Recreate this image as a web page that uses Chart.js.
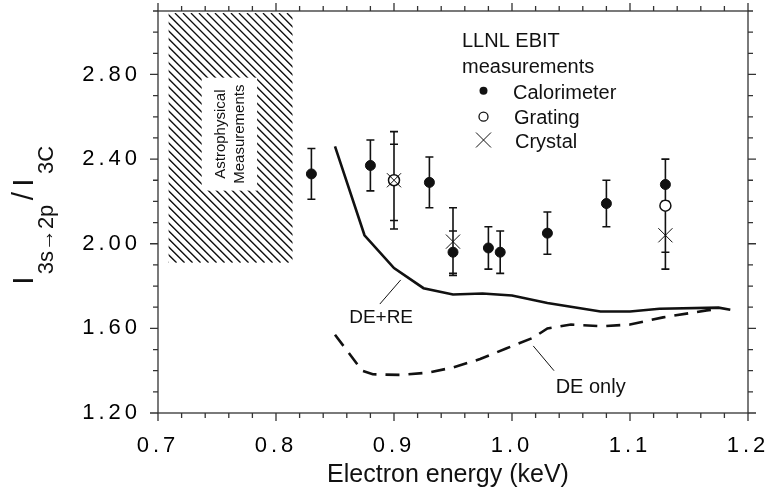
<!DOCTYPE html>
<html lang="en">
<head>
<meta charset="UTF-8">
<title>I(3s-2p)/I(3C) vs electron energy</title>
<script src="https://cdn.jsdelivr.net/npm/chart.js"></script>
<style>
  html, body { margin: 0; padding: 0; background: #fff; }
</style>
</head>
<body>
<canvas id="c" width="772" height="492"></canvas>
<script>
// axis tick labels
const xTicks = [0.7, 0.8, 0.9, 1.0, 1.1, 1.2];
const yTicks = [1.2, 1.6, 2.0, 2.4, 2.8];

// LLNL EBIT calorimeter
const calE    = [0.83, 0.88, 0.93, 0.95, 0.98, 0.99, 1.03, 1.08, 1.13];
const calR    = [2.33, 2.37, 2.29, 1.96, 1.98, 1.96, 2.05, 2.19, 2.28];
const calLow  = [2.21, 2.25, 2.17, 1.86, 1.88, 1.86, 1.95, 2.08, 2.17];
const calHigh = [2.45, 2.49, 2.41, 2.06, 2.08, 2.06, 2.15, 2.30, 2.40];

// grating
const gratE    = [0.90, 1.13];
const gratR    = [2.30, 2.18];
const gratLow  = [2.07, 1.96];
const gratHigh = [2.53, 2.40];

// crystal
const crysE    = [0.90, 0.95, 1.13];
const crysR    = [2.30, 2.01, 2.04];
const crysLow  = [2.11, 1.85, 1.88];
const crysHigh = [2.47, 2.17, 2.20];

// theory: DE+RE
const dereE = [0.85, 0.875, 0.90, 0.925, 0.95, 0.975, 1.00, 1.03, 1.075, 1.10, 1.125, 1.175, 1.185];
const dereR = [2.46, 2.04, 1.885, 1.79, 1.76, 1.765, 1.755, 1.72, 1.68, 1.68, 1.693, 1.698, 1.688];

// theory: DE only
const deE = [0.85, 0.873, 0.882, 0.905, 0.928, 0.95, 0.973, 0.995, 1.018, 1.03, 1.05, 1.077, 1.10, 1.128, 1.165, 1.175];
const deR = [1.57, 1.40, 1.383, 1.38, 1.39, 1.415, 1.455, 1.505, 1.556, 1.60, 1.618, 1.61, 1.618, 1.652, 1.685, 1.69];

// astrophysical range (hatched box)
const astroE = [0.709, 0.814];
const astroR = [1.91, 3.09];

const FONT = "'Liberation Sans', Arial, Helvetica, sans-serif";
const INK = '#111';

const pts = (xs, ys) => xs.map((x, i) => ({x: x, y: ys[i]}));

const errorSets = [
  {e: calE, lo: calLow, hi: calHigh},
  {e: gratE, lo: gratLow, hi: gratHigh},
  {e: crysE, lo: crysLow, hi: crysHigh}
];

// letter spaced tick labels like the original figure
const spacing = {
  id: 'spacing',
  beforeDraw(chart) { chart.ctx.letterSpacing = '4px'; },
  afterDraw(chart) { chart.ctx.letterSpacing = '0px'; }
};

const background = {
  id: 'background',
  beforeDatasetsDraw(chart) {
    const {ctx, scales: {x, y}} = chart;
    ctx.save();
    ctx.letterSpacing = '0px';

    // hatched astrophysical region
    const x0 = x.getPixelForValue(astroE[0]), x1 = x.getPixelForValue(astroE[1]);
    const y0 = y.getPixelForValue(astroR[1]), y1 = y.getPixelForValue(astroR[0]);
    ctx.save();
    ctx.beginPath();
    ctx.rect(x0, y0, x1 - x0, y1 - y0);
    ctx.clip();
    ctx.strokeStyle = INK;
    ctx.lineWidth = 1.4;
    const h = y1 - y0;
    ctx.beginPath();
    for (let k = x0 - h; k < x1 + 8; k += 8) {
      ctx.moveTo(k, y0);
      ctx.lineTo(k + h, y1);
    }
    ctx.stroke();
    ctx.restore();

    // label box
    const bx0 = x.getPixelForValue(0.737), bx1 = x.getPixelForValue(0.784);
    const by0 = y.getPixelForValue(2.785), by1 = y.getPixelForValue(2.251);
    ctx.fillStyle = '#fff';
    ctx.fillRect(bx0, by0, bx1 - bx0, by1 - by0);
    ctx.save();
    ctx.translate((bx0 + bx1) / 2, (by0 + by1) / 2);
    ctx.rotate(-Math.PI / 2);
    ctx.fillStyle = INK;
    ctx.font = '15px ' + FONT;
    ctx.textAlign = 'center';
    ctx.textBaseline = 'middle';
    ctx.fillText('Astrophysical', 0, -9);
    ctx.fillText('Measurements', 0, 10);
    ctx.restore();

    // frame with major and minor ticks on all sides
    const a = chart.chartArea;
    ctx.strokeStyle = '#333';
    ctx.lineWidth = 1.3;
    ctx.strokeRect(a.left, a.top, a.right - a.left, a.bottom - a.top);
    ctx.beginPath();
    for (let i = 0; i <= 25; i++) {
      const v = 0.7 + i * 0.02;
      const px = x.getPixelForValue(v);
      const len = i % 5 === 0 ? 8 : 5;
      ctx.moveTo(px, a.bottom); ctx.lineTo(px, a.bottom + len);
      ctx.moveTo(px, a.top); ctx.lineTo(px, a.top - len);
    }
    for (let i = 0; i <= 19; i++) {
      const v = 1.2 + i * 0.1;
      const py = y.getPixelForValue(v);
      const len = i % 4 === 0 ? 8 : 5;
      ctx.moveTo(a.left, py); ctx.lineTo(a.left - len, py);
      ctx.moveTo(a.right, py); ctx.lineTo(a.right + len, py);
    }
    ctx.stroke();

    // error bars
    ctx.strokeStyle = INK;
    ctx.lineWidth = 1.6;
    ctx.beginPath();
    errorSets.forEach(s => s.e.forEach((e, i) => {
      const px = x.getPixelForValue(e);
      const top = y.getPixelForValue(s.hi[i]);
      const bot = y.getPixelForValue(s.lo[i]);
      ctx.moveTo(px, top); ctx.lineTo(px, bot);
      ctx.moveTo(px - 4, top); ctx.lineTo(px + 4, top);
      ctx.moveTo(px - 4, bot); ctx.lineTo(px + 4, bot);
    }));
    ctx.stroke();
    ctx.restore();
  }
};

const labels = {
  id: 'labels',
  afterDraw(chart) {
    const {ctx, scales: {x, y}} = chart;
    ctx.save();
    ctx.letterSpacing = '0px';
    ctx.fillStyle = INK;
    ctx.strokeStyle = INK;

    // x title
    ctx.font = '25px ' + FONT;
    ctx.textAlign = 'center';
    ctx.textBaseline = 'alphabetic';
    ctx.fillText('Electron energy (keV)', 448, 482);

    // y title, rotated (reads bottom to top)
    ctx.save();
    ctx.translate(33, 0);
    ctx.rotate(-Math.PI / 2);
    ctx.textAlign = 'center';
    ctx.font = '30px ' + FONT;
    ctx.fillText('I', -280.5, 0);
    ctx.fillText('/', -196, 0);
    ctx.fillText('I', -182.5, 0);
    ctx.font = '22px ' + FONT;
    ctx.fillText('3s\u21922p', -239.5, 20);
    ctx.fillText('3C', -160, 20);
    ctx.restore();

    // legend
    ctx.textAlign = 'left';
    ctx.font = '20px ' + FONT;
    ctx.fillText('LLNL EBIT', 462, 47);
    ctx.fillText('measurements', 462, 73);
    ctx.fillText('Calorimeter', 513, 99);
    ctx.fillText('Grating', 514, 124);
    ctx.fillText('Crystal', 515, 148);
    ctx.beginPath();
    ctx.arc(483.5, 90.7, 4, 0, Math.PI * 2);
    ctx.fill();
    ctx.lineWidth = 1.3;
    ctx.beginPath();
    ctx.arc(483.5, 116.7, 4.5, 0, Math.PI * 2);
    ctx.stroke();
    ctx.lineWidth = 1;
    ctx.beginPath();
    ctx.moveTo(476, 132.5); ctx.lineTo(491, 147.5);
    ctx.moveTo(491, 132.5); ctx.lineTo(476, 147.5);
    ctx.stroke();

    // curve annotations
    ctx.font = '19px ' + FONT;
    ctx.textBaseline = 'middle';
    ctx.fillText('DE+RE', x.getPixelForValue(0.862), y.getPixelForValue(1.649));
    ctx.font = '20px ' + FONT;
    ctx.fillText('DE only', x.getPixelForValue(1.037), y.getPixelForValue(1.322));
    ctx.lineWidth = 1;
    ctx.beginPath();
    ctx.moveTo(x.getPixelForValue(0.888), y.getPixelForValue(1.715));
    ctx.lineTo(x.getPixelForValue(0.9057), y.getPixelForValue(1.829));
    ctx.moveTo(x.getPixelForValue(1.018), y.getPixelForValue(1.517));
    ctx.lineTo(x.getPixelForValue(1.0356), y.getPixelForValue(1.40));
    ctx.stroke();
    ctx.restore();
  }
};

const tickFont = {family: FONT, size: 22};

const config = {
  type: 'scatter',
  data: {
    datasets: [
      {
        label: 'Calorimeter',
        data: pts(calE, calR),
        pointStyle: 'circle',
        pointRadius: 5,
        backgroundColor: INK,
        borderColor: INK
      },
      {
        label: 'Crystal',
        data: pts(crysE, crysR),
        pointStyle: 'crossRot',
        pointRadius: 10,
        borderColor: INK,
        borderWidth: 1
      },
      {
        label: 'Grating',
        data: pts(gratE, gratR),
        pointStyle: 'circle',
        pointRadius: 5.5,
        backgroundColor: '#fff',
        borderColor: INK,
        borderWidth: 1.5
      },
      {
        label: 'DE+RE',
        data: pts(dereE, dereR),
        showLine: true,
        pointRadius: 0,
        borderColor: INK,
        borderWidth: 2.6,
        tension: 0
      },
      {
        label: 'DE only',
        data: pts(deE, deR),
        showLine: true,
        pointRadius: 0,
        borderColor: INK,
        borderWidth: 2.6,
        borderDash: [14, 9],
        tension: 0
      }
    ]
  },
  options: {
    responsive: false,
    animation: false,
    devicePixelRatio: 1,
    layout: { padding: { top: 7, right: 24, left: 0, bottom: 0 } },
    plugins: {
      legend: { display: false },
      tooltip: { enabled: false }
    },
    scales: {
      x: {
        type: 'linear',
        min: 0.7,
        max: 1.2,
        afterBuildTicks: s => { s.ticks = xTicks.map(v => ({value: v})); },
        afterFit: s => { s.height = 79; s.paddingLeft = 0; s.paddingRight = 0; },
        grid: { display: false, drawTicks: false },
        border: { display: false },
        ticks: {
          padding: 20,
          color: '#000',
          font: tickFont,
          maxRotation: 0,
          autoSkip: false,
          callback: v => v.toFixed(1)
        }
      },
      y: {
        type: 'linear',
        min: 1.2,
        max: 3.1,
        afterBuildTicks: s => { s.ticks = yTicks.map(v => ({value: v})); },
        afterFit: s => { s.width = 158; s.paddingTop = 0; s.paddingBottom = 0; },
        grid: { display: false, drawTicks: false },
        border: { display: false },
        ticks: {
          padding: 17,
          color: '#000',
          font: tickFont,
          autoSkip: false,
          callback: v => v.toFixed(2)
        }
      }
    }
  },
  plugins: [spacing, background, labels]
};

const chart = new Chart(document.getElementById('c').getContext('2d'), config);
</script>
</body>
</html>
